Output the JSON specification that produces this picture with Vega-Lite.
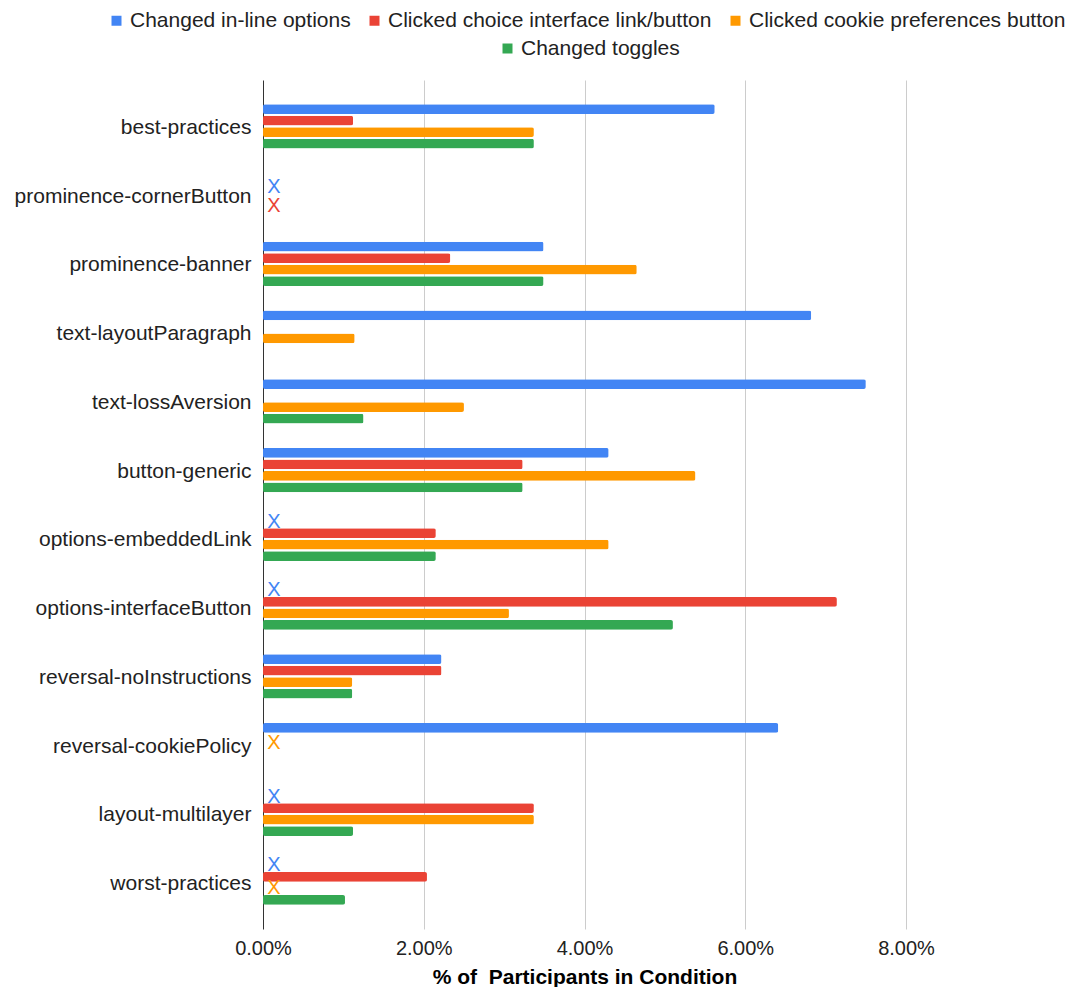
{
  "$schema": "https://vega.github.io/schema/vega-lite/v6.json",
  "autosize": {"type": "none"},
  "width": 643,
  "height": 849,
  "padding": {"left": 263, "top": 80, "right": 165, "bottom": 58},
  "background": "white",
  "config": {
    "font": "Liberation Sans",
    "view": {"stroke": null},
    "legend": {"padding": 0}
  },
  "data": {
    "values": [
      {"condition": "best-practices", "series": "Changed in-line options", "pct": 0.0562},
      {"condition": "best-practices", "series": "Clicked choice interface link/button", "pct": 0.0112},
      {"condition": "best-practices", "series": "Clicked cookie preferences button", "pct": 0.0337},
      {"condition": "best-practices", "series": "Changed toggles", "pct": 0.0337},

      {"condition": "prominence-cornerButton", "series": "Changed in-line options", "pct": null, "missing": true},
      {"condition": "prominence-cornerButton", "series": "Clicked choice interface link/button", "pct": null, "missing": true},
      {"condition": "prominence-cornerButton", "series": "Clicked cookie preferences button", "pct": 0},
      {"condition": "prominence-cornerButton", "series": "Changed toggles", "pct": 0},

      {"condition": "prominence-banner", "series": "Changed in-line options", "pct": 0.0349},
      {"condition": "prominence-banner", "series": "Clicked choice interface link/button", "pct": 0.0233},
      {"condition": "prominence-banner", "series": "Clicked cookie preferences button", "pct": 0.0465},
      {"condition": "prominence-banner", "series": "Changed toggles", "pct": 0.0349},

      {"condition": "text-layoutParagraph", "series": "Changed in-line options", "pct": 0.0682},
      {"condition": "text-layoutParagraph", "series": "Clicked choice interface link/button", "pct": 0},
      {"condition": "text-layoutParagraph", "series": "Clicked cookie preferences button", "pct": 0.0114},
      {"condition": "text-layoutParagraph", "series": "Changed toggles", "pct": 0},

      {"condition": "text-lossAversion", "series": "Changed in-line options", "pct": 0.075},
      {"condition": "text-lossAversion", "series": "Clicked choice interface link/button", "pct": 0},
      {"condition": "text-lossAversion", "series": "Clicked cookie preferences button", "pct": 0.025},
      {"condition": "text-lossAversion", "series": "Changed toggles", "pct": 0.0125},

      {"condition": "button-generic", "series": "Changed in-line options", "pct": 0.043},
      {"condition": "button-generic", "series": "Clicked choice interface link/button", "pct": 0.0323},
      {"condition": "button-generic", "series": "Clicked cookie preferences button", "pct": 0.0538},
      {"condition": "button-generic", "series": "Changed toggles", "pct": 0.0323},

      {"condition": "options-embeddedLink", "series": "Changed in-line options", "pct": null, "missing": true},
      {"condition": "options-embeddedLink", "series": "Clicked choice interface link/button", "pct": 0.0215},
      {"condition": "options-embeddedLink", "series": "Clicked cookie preferences button", "pct": 0.043},
      {"condition": "options-embeddedLink", "series": "Changed toggles", "pct": 0.0215},

      {"condition": "options-interfaceButton", "series": "Changed in-line options", "pct": null, "missing": true},
      {"condition": "options-interfaceButton", "series": "Clicked choice interface link/button", "pct": 0.0714},
      {"condition": "options-interfaceButton", "series": "Clicked cookie preferences button", "pct": 0.0306},
      {"condition": "options-interfaceButton", "series": "Changed toggles", "pct": 0.051},

      {"condition": "reversal-noInstructions", "series": "Changed in-line options", "pct": 0.0222},
      {"condition": "reversal-noInstructions", "series": "Clicked choice interface link/button", "pct": 0.0222},
      {"condition": "reversal-noInstructions", "series": "Clicked cookie preferences button", "pct": 0.0111},
      {"condition": "reversal-noInstructions", "series": "Changed toggles", "pct": 0.0111},

      {"condition": "reversal-cookiePolicy", "series": "Changed in-line options", "pct": 0.0641},
      {"condition": "reversal-cookiePolicy", "series": "Clicked choice interface link/button", "pct": 0},
      {"condition": "reversal-cookiePolicy", "series": "Clicked cookie preferences button", "pct": null, "missing": true},
      {"condition": "reversal-cookiePolicy", "series": "Changed toggles", "pct": 0},

      {"condition": "layout-multilayer", "series": "Changed in-line options", "pct": null, "missing": true},
      {"condition": "layout-multilayer", "series": "Clicked choice interface link/button", "pct": 0.0337},
      {"condition": "layout-multilayer", "series": "Clicked cookie preferences button", "pct": 0.0337},
      {"condition": "layout-multilayer", "series": "Changed toggles", "pct": 0.0112},

      {"condition": "worst-practices", "series": "Changed in-line options", "pct": null, "missing": true},
      {"condition": "worst-practices", "series": "Clicked choice interface link/button", "pct": 0.0204},
      {"condition": "worst-practices", "series": "Clicked cookie preferences button", "pct": null, "missing": true},
      {"condition": "worst-practices", "series": "Changed toggles", "pct": 0.0102}
    ]
  },
  "encoding": {
    "y": {
      "field": "condition",
      "type": "nominal",
      "sort": null,
      "scale": {"paddingInner": 0.18, "paddingOuter": 0.263},
      "axis": {
        "title": null,
        "domain": false,
        "ticks": false,
        "grid": false,
        "labelFontSize": 21,
        "labelColor": "#222222",
        "labelPadding": 12,
        "labelOffset": 1.5,
        "labelLimit": 400
      }
    },
    "yOffset": {
      "field": "series",
      "type": "nominal",
      "scale": {
        "domain": [
          "Changed in-line options",
          "Clicked choice interface link/button",
          "Clicked cookie preferences button",
          "Changed toggles"
        ],
        "paddingInner": 0.15,
        "paddingOuter": 0.525
      }
    }
  },
  "layer": [
    {
      "transform": [{"filter": "datum.pct != null && datum.series != 'Changed toggles'"}],
      "mark": {"type": "bar", "cornerRadius": 2},
      "encoding": {
        "x": {
          "field": "pct",
          "type": "quantitative",
          "scale": {"domain": [0, 0.08], "nice": false},
          "axis": {
            "title": "% of\u00a0 Participants in Condition",
            "titleFontSize": 21,
            "titleFontWeight": "bold",
            "titleColor": "#000000",
            "titlePadding": 8,
            "format": ".2%",
            "values": [0, 0.02, 0.04, 0.06, 0.08],
            "labelFontSize": 20,
            "labelColor": "#222222",
            "labelPadding": 9,
            "labelFlush": false,
            "domain": false,
            "ticks": false,
            "gridColor": {"condition": {"test": "datum.value === 0", "value": "#333333"}, "value": "#cccccc"},
            "gridWidth": 1
          }
        },
        "color": {
          "field": "series",
          "type": "nominal",
          "scale": {
            "domain": [
              "Changed in-line options",
              "Clicked choice interface link/button",
              "Clicked cookie preferences button"
            ],
            "range": ["#4285F4", "#EA4335", "#FF9900"]
          },
          "legend": {
            "title": null,
            "orient": "none",
            "legendX": -157,
            "legendY": -70,
            "direction": "horizontal",
            "symbolType": "square",
            "symbolSize": 100,
            "symbolStrokeWidth": 0,
            "labelFontSize": 21,
            "labelColor": "#222222",
            "labelOffset": 3,
            "columnPadding": 13,
            "labelLimit": 400
          }
        }
      }
    },
    {
      "transform": [{"filter": "datum.pct != null && datum.series == 'Changed toggles'"}],
      "mark": {"type": "bar", "cornerRadius": 2},
      "encoding": {
        "x": {"field": "pct", "type": "quantitative"},
        "fill": {
          "field": "series",
          "type": "nominal",
          "scale": {"domain": ["Changed toggles"], "range": ["#34A853"]},
          "legend": {
            "title": null,
            "orient": "none",
            "legendX": 234,
            "legendY": -42,
            "direction": "horizontal",
            "symbolType": "square",
            "symbolSize": 100,
            "symbolStrokeWidth": 0,
            "labelFontSize": 21,
            "labelColor": "#222222",
            "labelOffset": 3,
            "labelLimit": 400
          }
        }
      }
    },
    {
      "transform": [{"filter": "datum.missing === true && datum.condition != 'prominence-cornerButton' && datum.condition != 'reversal-cookiePolicy'"}],
      "mark": {"type": "text", "text": "X", "fontSize": 20, "dx": 11, "align": "center", "baseline": "middle"},
      "encoding": {
        "x": {"datum": 0, "type": "quantitative"},
        "color": {"field": "series", "type": "nominal"}
      }
    },
    {
      "transform": [{"filter": "datum.missing === true && datum.condition == 'prominence-cornerButton' && datum.series == 'Changed in-line options'"}],
      "mark": {"type": "text", "text": "X", "fontSize": 20, "dx": 11, "dy": 9, "align": "center", "baseline": "middle"},
      "encoding": {
        "x": {"datum": 0, "type": "quantitative"},
        "color": {"field": "series", "type": "nominal"}
      }
    },
    {
      "transform": [{"filter": "datum.missing === true && datum.condition == 'prominence-cornerButton' && datum.series == 'Clicked choice interface link/button'"}],
      "mark": {"type": "text", "text": "X", "fontSize": 20, "dx": 11, "dy": 17, "align": "center", "baseline": "middle"},
      "encoding": {
        "x": {"datum": 0, "type": "quantitative"},
        "color": {"field": "series", "type": "nominal"}
      }
    },
    {
      "transform": [{"filter": "datum.missing === true && datum.condition == 'reversal-cookiePolicy'"}],
      "mark": {"type": "text", "text": "X", "fontSize": 20, "dx": 11, "dy": -8, "align": "center", "baseline": "middle"},
      "encoding": {
        "x": {"datum": 0, "type": "quantitative"},
        "color": {"field": "series", "type": "nominal"}
      }
    }
  ]
}
